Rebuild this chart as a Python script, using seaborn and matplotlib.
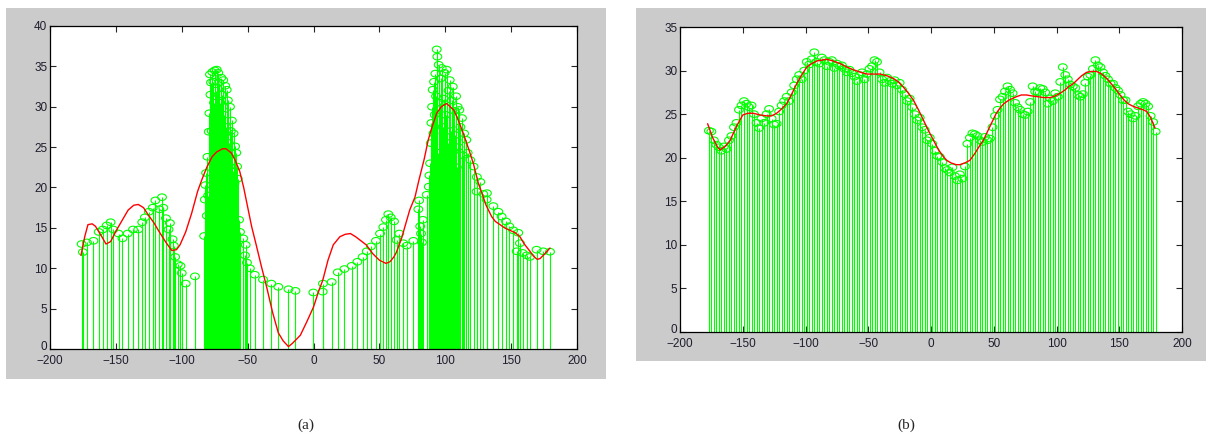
import numpy as np
import pandas as pd
import matplotlib
matplotlib.use("Agg")
import matplotlib.pyplot as plt
from matplotlib.patches import Rectangle
from matplotlib.path import Path
from matplotlib.transforms import ScaledTranslation
import seaborn as sns

# panel (a): samples and fitted curve
xa = [-176, -175, -172, -167, -163, -160, -157, -154, -152, -148, -145, -141, -137, -133,
      -130, -128, -125, -122, -120, -117, -115, -114, -112, -110, -109, -107, -106, -105,
      -103, -101, -100, -97, -90,
      -83.0, -82.5, -82.0, -81.5, -81.0, -80.5, -80.0, -79.5, -79.0, -78.6, -78.2, -77.8,
      -77.3, -76.8, -76.0, -75.5, -75.0, -74.3, -73.5, -73.0, -72.3, -71.5, -70.8, -70.0,
      -69.3, -68.5, -67.8, -67.0, -66.3, -65.9, -65.0, -64.3, -63.4, -62.7, -62.0, -61.3,
      -60.7, -60.0, -59.5, -58.6, -58.0, -57.5, -56.5, -55.8, -53.3, -52.0, -51.5, -50.5,
      -48.3, -44.6, -38.3, -32.0, -26.7, -19.0, -13.7, -0.1, 7.0, 7.2, 13.8, 18.4, 23.4,
      29.0, 33.3, 37.3, 40.4, 43.6, 47.4, 50.5, 53.0, 55.0, 56.8, 58.6, 61.1, 63.1, 65.1,
      68.2, 70.7, 75.8, 79.6, 80.2, 81.0, 81.6, 82.3, 83.0, 85.9, 87.5,
      88.0, 88.5, 89.0, 89.5, 90.0, 90.5, 91.0, 91.5, 92.0, 92.5, 93.0, 93.5, 94.0, 94.5,
      95.0, 95.5, 96.0, 96.5, 97.3, 98.0, 98.7, 99.5, 100.2, 101.1, 101.8, 102.5, 103.4,
      104.0, 104.8, 105.7, 106.3, 107.0, 107.6, 108.2, 108.8, 109.4, 110.0, 110.7, 111.5,
      112.7, 113.5, 114.3, 116.0, 117.0, 119.0, 121.5, 123.8, 124.0, 126.6, 128.9, 131.4,
      131.6, 136.5, 140.3, 142.8, 146.1, 148.6, 151.6, 154.2, 155.4, 156.7, 158.7, 161.8,
      164.3, 169.3, 174.4, 179.5]
ya = [13.0, 12.0, 13.2, 13.4, 14.5, 14.8, 15.3, 15.7, 14.8, 14.3, 13.7, 14.3, 14.8, 14.8,
      15.7, 16.3, 17.0, 17.5, 18.4, 17.3, 18.8, 17.5, 16.2, 14.8, 15.6, 13.6, 12.8, 11.4,
      10.5, 10.3, 9.4, 8.1, 9.0,
      14.0, 18.5, 20.3, 21.8, 16.5, 23.8, 19.0, 26.9, 29.2, 34.0, 31.5, 33.0,
      27.0, 34.3, 33.1, 30.5, 34.5, 32.0, 34.6, 28.5, 34.2, 33.0, 30.5, 33.6,
      31.5, 33.3, 29.0, 32.6, 27.5, 32.1, 30.8, 25.5, 30.0, 27.0, 28.3, 22.0,
      26.7, 20.5, 25.1, 24.3, 22.6, 21.1, 16.0, 14.5, 13.7, 11.6, 12.9, 10.7,
      10.0, 9.2, 8.6, 8.1, 7.7, 7.4, 7.2, 7.0, 7.1, 8.1, 8.3, 9.5, 9.9,
      10.3, 10.8, 11.4, 12.1, 12.7, 13.4, 14.3, 15.1, 16.0, 16.7, 16.3, 15.8, 13.5, 14.3,
      13.1, 12.8, 13.4, 17.3, 18.4, 15.2, 14.3, 13.2, 16.0, 19.1, 20.1,
      21.5, 23.0, 25.5, 28.0, 30.0, 32.1, 26.7, 33.1, 29.0, 34.1, 31.3, 37.1, 36.2, 24.3,
      35.2, 23.0, 30.5, 33.5, 34.8, 27.5, 31.0, 34.2, 29.0, 34.6, 25.5, 32.0, 33.3,
      27.0, 30.8, 32.5, 24.5, 29.5, 26.5, 31.3, 22.5, 30.0, 25.0, 29.6, 27.5,
      28.6, 24.0, 26.7, 25.9, 24.3, 23.4, 22.6, 19.5, 21.3, 20.7, 19.2, 18.5,
      19.3, 17.7, 17.0, 16.4, 15.8, 15.2, 14.7, 12.1, 14.4, 13.1, 11.9, 11.6,
      11.4, 12.3, 12.1, 12.05]

xa_fit = [-176.5, -173.5, -171.2, -168, -165.5, -161, -157.5, -154, -149.6, -145, -140.7,
          -136.5, -133, -129, -125.4, -121, -117.8, -112, -107.6, -104, -101.3, -97, -92.5,
          -88, -84.9, -81, -77, -73.5, -69, -66.5, -62.5, -59.5, -56, -53, -50, -47,
          -43.2, -39.5, -35.6, -31, -26.7, -23, -19, -16, -13, -10, -5, 0, 4, 7, 11, 15, 20,
          24, 28, 32, 36, 40, 45, 50, 55, 58, 61, 63, 67, 70, 73, 77, 80, 84, 87.1, 90, 93.5,
          97, 101, 106.5, 110, 113.7, 117.5, 121.3, 125, 128, 131, 135.2, 138, 141.6, 145,
          149, 153, 156.7, 160, 164.3, 167, 169.8, 172, 175, 179.5]
ya_fit = [11.6, 14.0, 15.4, 15.5, 15.2, 14.0, 13.0, 13.3, 14.7, 16.0, 17.2,
          17.8, 17.9, 17.5, 16.6, 15.6, 14.7, 13.2, 12.2, 12.3, 12.9, 14.5, 16.8,
          19.5, 20.9, 22.5, 23.8, 24.4, 24.8, 24.8, 24.3, 23.4, 22.0, 20.0, 17.6, 15.2,
          12.7, 10.2, 7.7, 4.5, 2.0, 1.0, 0.3, 0.7, 1.2, 1.7, 3.4, 5.2, 7.2, 8.5, 11.0, 12.9, 13.9,
          14.2, 14.3, 13.9, 13.4, 12.9, 11.8, 11.0, 10.6, 10.8, 11.4, 12.0, 13.8, 15.5, 17.2, 18.8,
          20.9, 23.5, 25.9, 27.5, 29.2,
          30.0, 30.4, 29.6, 28.3, 26.7, 24.9, 23.0, 20.6, 19.2, 17.8, 16.4, 15.8, 15.4, 15.0,
          14.7, 14.4, 13.9, 13.0, 12.1, 11.5, 11.1, 11.2, 11.7, 12.5]

# panel (b): samples and fitted curve
xb = list(range(-177, 181, 2))
yb = [23.1, 23.0, 22.0, 21.5, 21.2, 20.8, 21.3, 21.0, 22.0, 22.5, 23.5, 24.0, 25.5, 26.0,
      26.5, 26.2, 25.8, 26.0, 25.0, 24.0, 23.4, 24.5, 24.0, 25.0, 25.6, 24.5, 23.8, 23.9,
      25.3, 26.0, 26.5, 27.0, 26.5, 27.5, 28.3, 29.0, 29.5, 29.0, 30.0, 31.0, 30.7, 31.3,
      32.1, 31.0, 30.8, 31.5, 31.2, 30.5, 31.0, 31.2, 30.3, 30.8, 30.5, 30.6, 30.2, 29.8,
      30.1, 29.7, 29.3, 28.8, 29.5, 29.8, 29.0, 29.6, 30.2, 30.5, 31.2, 31.0, 29.8, 29.0,
      28.6, 29.2, 28.8, 28.5, 28.9, 28.3, 28.6, 27.8, 27.3, 26.5, 26.8, 25.8, 25.0, 24.3,
      24.6, 23.5, 23.2, 22.0, 22.3, 21.6, 20.8, 20.2, 20.1, 19.5, 18.8, 18.6, 18.3, 18.9,
      17.9, 17.4, 18.1, 17.6, 19.0, 21.6, 22.3, 22.8, 22.7, 22.5, 22.0, 21.8, 22.4, 22.0,
      22.2, 23.5, 24.8, 25.5, 26.7, 27.0, 27.6, 28.2, 27.8, 27.4, 26.3, 25.8, 25.5, 25.0,
      24.9, 25.3, 26.4, 28.2, 27.6, 27.5, 28.0, 27.9, 27.5, 26.2, 26.8, 26.5, 27.4, 27.0,
      28.7, 30.4, 29.5, 29.0, 28.4, 28.2, 28.0, 27.2, 27.0, 27.3, 28.6, 29.3, 29.5, 30.2,
      31.2, 30.6, 30.4, 29.8, 29.4, 29.0, 28.5, 28.5, 28.0, 27.7, 27.2, 26.6, 26.6, 25.3,
      25.0, 24.5, 24.8, 25.9, 26.2, 26.4, 26.2, 25.9, 24.8, 24.1, 23.0]

xb_fit = [-178, -174, -170, -168, -164, -160, -155, -150, -146, -141.6, -136, -131, -127,
          -123, -119, -115, -111, -107, -103, -99, -95, -91, -87, -83, -78, -72.5, -67, -62,
          -56, -51, -46, -40.6, -35, -30, -26, -22, -18, -14, -10, -6, -2, 2, 6, 10, 12.5, 16,
          20, 23, 27, 31, 35, 38, 41.7, 45, 49, 52, 55, 58, 62, 65, 68, 72, 76, 80, 85, 90,
          95, 99, 103, 107, 110, 113.4, 117, 120, 124, 128, 132, 136, 140, 143, 147, 150.6,
          154, 157, 161, 165, 169, 172, 175, 178.5]
yb_fit = [23.9, 22.3, 21.2, 20.9, 21.3, 22.0, 23.6, 24.9, 25.1, 25.1, 24.9, 24.8, 24.8,
          25.1, 25.6, 26.2, 27.3, 28.5, 29.5, 30.4, 30.8, 31.1, 31.2, 31.3, 31.1, 30.8, 30.4, 30.1,
          29.8, 29.6, 29.6, 29.6, 29.4, 29.1, 28.7, 28.1, 27.4, 26.6, 25.5, 24.3, 23.1, 22.0, 20.9,
          20.1, 19.7, 19.4, 19.2, 19.2, 19.4, 19.7, 20.5, 21.2, 22.0, 23.0, 24.2, 25.1, 25.7, 26.2,
          26.6, 26.8, 27.0, 27.2, 27.2, 27.1, 27.0, 26.9, 26.9, 27.1, 27.4, 27.8, 28.2, 28.5,
          29.0, 29.4, 29.8, 29.9, 29.9, 29.6, 29.1, 28.6, 27.9, 27.2, 26.6, 26.2, 25.9, 25.7,
          25.5, 25.3, 24.6, 23.4]

sns.set_style("ticks")
plt.rcParams['font.family'] = ['Liberation Sans', 'DejaVu Sans']

# flattened circle marker, like the stem heads in the original
circ = Path.unit_circle()
ellipse = Path(circ.vertices * np.array([1.0, 0.75]), circ.codes)

fig = plt.figure(figsize=(12.06, 4.46), dpi=100)
grey = "#cbcbcb"
fig.patches.append(Rectangle((6 / 1206, 1 - 379 / 446), 600 / 1206, 371 / 446,
                             transform=fig.transFigure, facecolor=grey, edgecolor="none", zorder=-5))
fig.patches.append(Rectangle((636 / 1206, 1 - 361 / 446), 570 / 1206, 353 / 446,
                             transform=fig.transFigure, facecolor=grey, edgecolor="none", zorder=-5))

ax_a = fig.add_axes([50 / 1206, 1 - 349 / 446, 527 / 1206, 323 / 446])
ax_b = fig.add_axes([680 / 1206, 1 - 332 / 446, 502 / 1206, 305 / 446])

panels = [
    (ax_a, xa, ya, xa_fit, ya_fit, 40),
    (ax_b, xb, yb, xb_fit, yb_fit, 35),
]

for ax, xs, ys, xf, yf, ytop in panels:
    ax.set_facecolor("white")
    ax.vlines(xs, 0, ys, color="#00ff00", linewidth=0.8, zorder=2)
    pts = pd.DataFrame({"x": xs, "y": ys})
    sns.scatterplot(data=pts, x="x", y="y", ax=ax, marker=ellipse, s=40,
                    facecolors="none", edgecolor="#00ff00", linewidth=0.8, zorder=3)
    fit = pd.DataFrame({"x": xf, "y": yf})
    sns.lineplot(data=fit, x="x", y="y", ax=ax, color="red", linewidth=1.0,
                 sort=False, estimator=None, zorder=4)
    ax.set_xlim(-200, 200)
    ax.set_ylim(0, ytop)
    ax.set_xticks(np.arange(-200, 201, 50))
    ax.set_yticks(np.arange(0, ytop + 1, 5))
    ax.set_xlabel("")
    ax.set_ylabel("")
    ax.tick_params(direction="in", top=True, right=True, length=4, width=0.8,
                   labelsize=8.5, labelcolor="#1e1e2e", pad=2)
    ax.tick_params(axis="x", pad=4)
    # lift the y "0" a touch so it sits just above "-200"
    zero = ax.yaxis.get_major_ticks()[0].label1
    zero.set_transform(zero.get_transform() + ScaledTranslation(0, 2.5 / 72, fig.dpi_scale_trans))
    for sp in ax.spines.values():
        sp.set_visible(True)
        sp.set_linewidth(0.9)
        sp.set_color("black")

fig.text(306 / 1206, 1 - 425 / 446, "(a)", ha="center", va="center",
         fontsize=11, family=["Liberation Serif", "DejaVu Serif"])
fig.text(906 / 1206, 1 - 425 / 446, "(b)", ha="center", va="center",
         fontsize=11, family=["Liberation Serif", "DejaVu Serif"])

fig.savefig("out.png", dpi=100, facecolor="white")
